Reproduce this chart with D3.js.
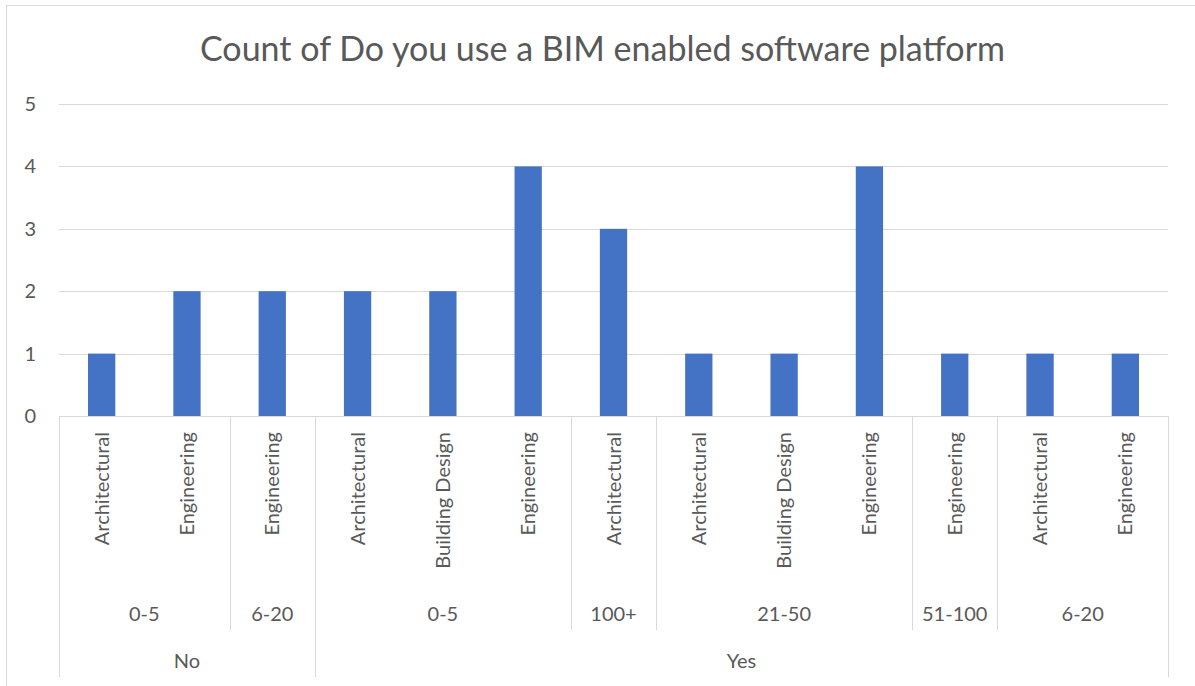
<!DOCTYPE html>
<html>
<head>
<meta charset="utf-8">
<script src="https://cdn.jsdelivr.net/npm/d3@7"></script>
<style>
  body { margin: 0; background: #fff; }
  text { font-family: Lato, "Open Sans", sans-serif; fill: #595959; }
</style>
</head>
<body>
<div id="chart"></div>
<script>
// chart values
var answers = ['No', 'No', 'No', 'Yes', 'Yes', 'Yes', 'Yes', 'Yes', 'Yes', 'Yes', 'Yes', 'Yes', 'Yes'];
var sizes   = ['0-5', '0-5', '6-20', '0-5', '0-5', '0-5', '100+', '21-50', '21-50', '21-50', '51-100', '6-20', '6-20'];
var types   = ['Architectural', 'Engineering', 'Engineering', 'Architectural', 'Building Design', 'Engineering',
               'Architectural', 'Architectural', 'Building Design', 'Engineering', 'Engineering', 'Architectural', 'Engineering'];
var counts  = [1, 2, 2, 2, 2, 4, 3, 1, 1, 4, 1, 1, 1];
var yTicks  = [0, 1, 2, 3, 4, 5];

var width = 1195, height = 686;
var plotLeft = 59, plotRight = 1168, plotTop = 104, plotBase = 416;
var labelSize = '20px';

var svg = d3.select('#chart').append('svg')
	.attr('width', width)
	.attr('height', height);

// outer chart border
svg.append('rect')
	.attr('x', 6.5).attr('y', 5.5)
	.attr('width', 1200).attr('height', 700)
	.attr('fill', 'none')
	.attr('stroke', '#d9d9d9');

svg.append('text')
	.attr('x', (plotLeft + plotRight) / 2 - 11)
	.attr('y', 61)
	.attr('text-anchor', 'middle')
	.style('font-size', '34px')
	.text('Count of Do you use a BIM enabled software platform');

var idx = counts.map(function(d, i) { return i; });

var x = d3.scaleBand()
	.domain(idx)
	.range([plotLeft, plotRight])
	.paddingInner(0.68)
	.paddingOuter(0.34);

var y = d3.scaleLinear()
	.domain([0, 5])
	.range([plotBase, plotTop]);

// gridlines
svg.append('g')
	.selectAll('line')
	.data(yTicks)
	.enter()
	.append('line')
	.attr('x1', plotLeft).attr('x2', plotRight)
	.attr('y1', function(d) { return Math.round(y(d)) + 0.5; })
	.attr('y2', function(d) { return Math.round(y(d)) + 0.5; })
	.attr('stroke', '#d9d9d9')
	.attr('stroke-width', 1);

svg.append('g')
	.selectAll('text')
	.data(yTicks)
	.enter()
	.append('text')
	.attr('x', 36)
	.attr('y', function(d) { return y(d); })
	.attr('dy', '0.35em')
	.attr('text-anchor', 'end')
	.style('font-size', labelSize)
	.text(function(d) { return d; });

// bars
svg.append('g')
	.selectAll('rect')
	.data(idx)
	.enter()
	.append('rect')
	.attr('x', function(i) { return x(i); })
	.attr('width', x.bandwidth())
	.attr('y', function(i) { return y(counts[i]); })
	.attr('height', function(i) { return y(0) - y(counts[i]); })
	.attr('fill', '#4472c4');

// multi-level category axis
var step = x.step();
function edge(i) { return x(i) - step * x.paddingInner() / 2; }
function groupsOf(keyFn) {
	var out = [];
	idx.forEach(function(i) {
		var k = keyFn(i);
		if (out.length && out[out.length - 1].key === k) out[out.length - 1].end = i;
		else out.push({ key: k, start: i, end: i });
	});
	return out;
}
var level2 = groupsOf(function(i) { return answers[i] + '|' + sizes[i]; });
var level3 = groupsOf(function(i) { return answers[i]; });

var axis = svg.append('g');
// size group separators
level2.forEach(function(g) {
	var xs = Math.round(edge(g.start)) + 0.5;
	axis.append('line')
		.attr('x1', xs).attr('x2', xs)
		.attr('y1', plotBase).attr('y2', 630)
		.attr('stroke', '#d9d9d9');
});
// answer separators and right end
level3.forEach(function(g) {
	var xs = Math.round(edge(g.start)) + 0.5;
	axis.append('line')
		.attr('x1', xs).attr('x2', xs)
		.attr('y1', plotBase).attr('y2', 677)
		.attr('stroke', '#d9d9d9');
});
axis.append('line')
	.attr('x1', plotRight + 0.5).attr('x2', plotRight + 0.5)
	.attr('y1', plotBase).attr('y2', 677)
	.attr('stroke', '#d9d9d9');

// leaf labels
axis.selectAll('text.leaf')
	.data(idx)
	.enter()
	.append('text')
	.attr('class', 'leaf')
	.attr('transform', function(i) {
		return 'translate(' + (x(i) + x.bandwidth() / 2) + ',432) rotate(-90)';
	})
	.attr('dy', '0.35em')
	.attr('text-anchor', 'end')
	.style('font-size', labelSize)
	.text(function(i) { return types[i]; });

axis.selectAll('text.size')
	.data(level2)
	.enter()
	.append('text')
	.attr('class', 'size')
	.attr('x', function(g) { return (x(g.start) + x(g.end) + x.bandwidth()) / 2; })
	.attr('y', 621)
	.attr('text-anchor', 'middle')
	.style('font-size', labelSize)
	.text(function(g) { return sizes[g.start]; });

axis.selectAll('text.answer')
	.data(level3)
	.enter()
	.append('text')
	.attr('class', 'answer')
	.attr('x', function(g) { return (x(g.start) + x(g.end) + x.bandwidth()) / 2; })
	.attr('y', 668)
	.attr('text-anchor', 'middle')
	.style('font-size', labelSize)
	.text(function(g) { return answers[g.start]; });
</script>
</body>
</html>
